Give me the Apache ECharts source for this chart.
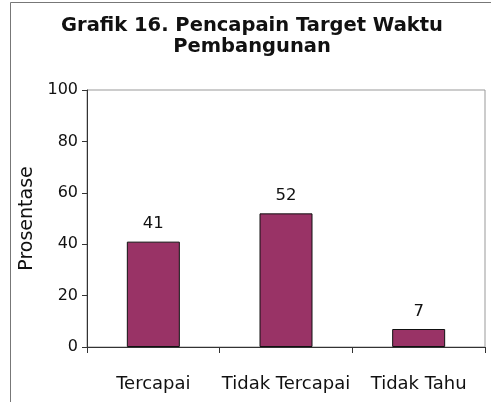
<!DOCTYPE html>
<html>
<head>
<meta charset="utf-8">
<script src="https://cdn.jsdelivr.net/npm/echarts@6/dist/echarts.min.js"></script>
<style>
  html, body { margin: 0; padding: 0; background: #fff; }
  #chart { width: 491px; height: 402px; }
</style>
</head>
<body>
<div id="chart"></div>
<script>
// data
var categories = ['Tercapai', 'Tidak Tercapai', 'Tidak Tahu'];
var values = [41, 52, 7];
var yTicks = [0, 20, 40, 60, 80, 100];

var font = 'Verdana, "DejaVu Sans", sans-serif';

var chart = echarts.init(document.getElementById('chart'));

var option = {
    backgroundColor: '#fff',
    animation: false,
    // judul dua baris
    title: {
        text: 'Grafik 16. Pencapain Target Waktu\nPembangunan',
        left: 247, top: 10, textAlign: 'center',
        textStyle: { fontFamily: font, fontWeight: 'bold', fontSize: 19.5, lineHeight: 21, color: '#111' }
    },
    // bingkai luar
    graphic: [{
        type: 'polyline',
        shape: { points: [[10.5, 420], [10.5, 2.5], [491, 2.5]] },
        style: { stroke: '#777', lineWidth: 1, fill: null }
    }],
    grid: {
        left: 87, right: 6, top: 90, bottom: 55,
        show: true, borderColor: '#999', borderWidth: 1
    },
    xAxis: {
        type: 'category',
        data: categories,
        axisLine: { lineStyle: { color: '#333', width: 1 } },
        axisTick: { show: true, inside: false, length: 6, lineStyle: { color: '#333' } },
        axisLabel: { fontFamily: font, fontSize: 18, color: '#111', margin: 28, interval: 0, hideOverlap: false },
        splitLine: { show: false }
    },
    yAxis: {
        type: 'value',
        min: yTicks[0],
        max: yTicks[yTicks.length - 1],
        interval: yTicks[1] - yTicks[0],
        name: 'Prosentase',
        nameLocation: 'middle',
        nameGap: 49,
        nameRotate: 90,
        nameTextStyle: { fontFamily: font, fontSize: 19, color: '#111' },
        axisLine: { show: true, lineStyle: { color: '#333', width: 1 } },
        axisTick: { show: true, inside: false, length: 5, lineStyle: { color: '#333' } },
        axisLabel: { fontFamily: font, fontSize: 16, color: '#111', margin: 9 },
        splitLine: { show: false }
    },
    series: [{
        type: 'bar',
        data: values,
        barWidth: 53,
        itemStyle: { color: '#993366', borderColor: '#111', borderWidth: 1 },
        label: {
            show: true, position: 'top', distance: 9,
            fontFamily: font, fontSize: 16.5, color: '#111'
        }
    }]
};

chart.setOption(option);
</script>
</body>
</html>
